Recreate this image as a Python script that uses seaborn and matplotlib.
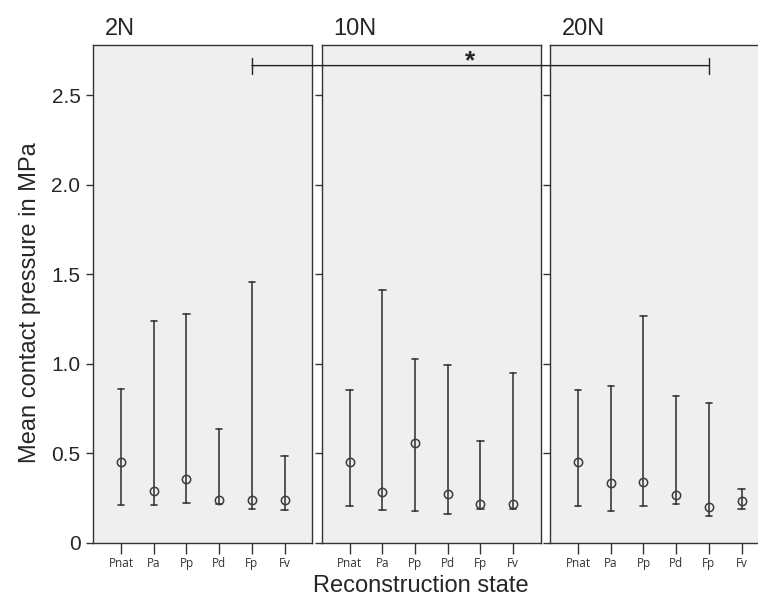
import numpy as np
import pandas as pd
import seaborn as sns
import matplotlib.pyplot as plt
from matplotlib.patches import ConnectionPatch

# --- data (mean with lower / upper whisker) ---
STATES = ['Pnat', 'Pa', 'Pp', 'Pd', 'Fp', 'Fv']
FORCES = ['2N', '10N', '20N']

mean_2n = [0.454, 0.292, 0.357, 0.240, 0.238, 0.240]
low_2n = [0.210, 0.210, 0.222, 0.216, 0.192, 0.183]
high_2n = [0.859, 1.240, 1.279, 0.637, 1.456, 0.488]

mean_10n = [0.454, 0.283, 0.560, 0.276, 0.220, 0.220]
low_10n = [0.208, 0.183, 0.181, 0.164, 0.190, 0.192]
high_10n = [0.855, 1.413, 1.028, 0.993, 0.570, 0.951]

mean_20n = [0.454, 0.333, 0.341, 0.268, 0.201, 0.235]
low_20n = [0.208, 0.179, 0.206, 0.216, 0.153, 0.188]
high_20n = [0.855, 0.877, 1.268, 0.820, 0.782, 0.303]

Y_TICKS = [0, 0.5, 1.0, 1.5, 2.0, 2.5]
Y_TICKLABELS = ['0', '0.5', '1.0', '1.5', '2.0', '2.5']
SIG_Y = 2.665

# long table: three rows per state (low, mean, high); the median is the mean
# and the 100 % percentile interval spans low..high
rows = []
for force, m, lo, hi in zip(FORCES, [mean_2n, mean_10n, mean_20n],
                            [low_2n, low_10n, low_20n], [high_2n, high_10n, high_20n]):
    for s, a, b, c in zip(STATES, lo, m, hi):
        for v in (a, b, c):
            rows.append({'force': force, 'state': s, 'value': v})
df = pd.DataFrame(rows)

sns.set_style('ticks')
plt.rcParams['font.family'] = ['Liberation Sans', 'DejaVu Sans']

fig = plt.figure(figsize=(7.58, 6.06), dpi=100)
lefts = [93 / 758, 321.5 / 758, 550 / 758]
axes = []
for i, force in enumerate(FORCES):
    ax = fig.add_axes([lefts[i], 63 / 606, 219 / 758, 498 / 606])
    axes.append(ax)
    sub = df[df['force'] == force]
    sns.pointplot(data=sub, x='state', y='value', order=STATES, ax=ax,
                  estimator='median', errorbar=('pi', 100), capsize=0.2,
                  color='#3c3c3c', linestyle='none', markers='o',
                  markersize=6, markerfacecolor='none', markeredgewidth=1.1,
                  err_kws={'linewidth': 1.2})
    ax.set_facecolor('#efefef')
    ax.set_xlim(-0.86, 5.84)
    ax.set_ylim(0, 2.78)
    ax.set_yticks(Y_TICKS)
    ax.set_xlabel('')
    ax.set_ylabel('')
    for sp in ax.spines.values():
        sp.set_visible(True)
        sp.set_color('#333333')
        sp.set_linewidth(1.0)
    ax.tick_params(axis='x', length=8, width=1, color='#333333', pad=2)
    for lab in ax.get_xticklabels():
        lab.set_fontfamily(['Open Sans', 'DejaVu Sans'])
        lab.set_fontsize(8.5)
        lab.set_color('#333333')
    ax.tick_params(axis='y', length=5, width=1, color='#333333', labelsize=15, pad=4)
    if i == 0:
        ax.set_yticklabels(Y_TICKLABELS)
    else:
        ax.set_yticklabels([])
    ax.text(0.055, 1.02, force, transform=ax.transAxes, fontsize=17,
            ha='left', va='baseline')

# significance bracket between Fp at 2N and Fp at 20N
con = ConnectionPatch(xyA=(4, SIG_Y), coordsA=axes[0].transData,
                      xyB=(4, SIG_Y), coordsB=axes[2].transData,
                      color='#222222', linewidth=1.0)
fig.add_artist(con)
for ax in (axes[0], axes[2]):
    ax.plot([4, 4], [SIG_Y - 0.045, SIG_Y + 0.045], color='#222222',
            linewidth=1.0, clip_on=False)
axes[1].text(3.7, SIG_Y - 0.045, '*', fontsize=19, fontweight='bold',
             ha='center', va='bottom')

fig.text(0.04, 0.5, 'Mean contact pressure in MPa', rotation=90,
         ha='center', va='center', fontsize=17)
fig.text(0.555, 0.033, 'Reconstruction state', ha='center', va='center',
         fontsize=17)

fig.savefig('out.png', dpi=100)
